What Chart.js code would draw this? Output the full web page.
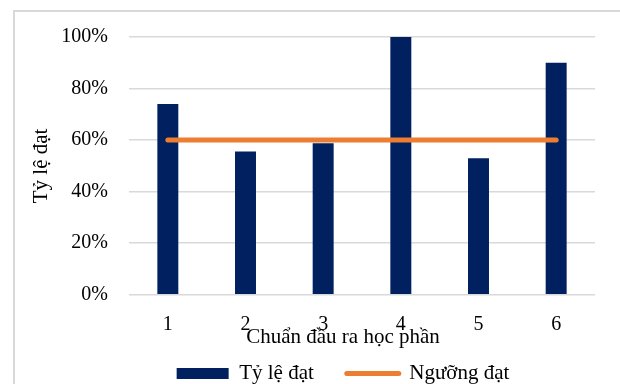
<!DOCTYPE html>
<html>
<head>
<meta charset="utf-8">
<script src="https://cdn.jsdelivr.net/npm/chart.js@4/dist/chart.umd.min.js"></script>
<style>
  html, body { margin: 0; padding: 0; background: #fff; width: 620px; height: 384px; overflow: hidden; position: relative; }
  #frame { position: absolute; left: 13px; top: 10px; width: 700px; height: 420px; border: 2px solid #d9d9d9; box-sizing: border-box; }
  #c { position: absolute; left: 13px; top: 10px; }
</style>
</head>
<body>
<div id="frame"></div>
<canvas id="c" width="660" height="400"></canvas>
<script>
const categories = ["1", "2", "3", "4", "5", "6"];
const passRate = [74, 55.6, 58.8, 100, 53, 90];
const threshold = [60, 60, 60, 60, 60, 60];
const yTicks = [0, 20, 40, 60, 80, 100];
const seriesNames = ["Tỷ lệ đạt", "Ngưỡng đạt"];
const xTitle = "Chuẩn đầu ra học phần";
const yTitle = "Tỷ lệ đạt";

const FONT = "'Liberation Serif', 'Times New Roman', serif";

new Chart(document.getElementById('c'), {
  data: {
    labels: categories,
    datasets: [
      {
        type: 'bar',
        label: seriesNames[0],
        data: passRate,
        backgroundColor: '#002060',
        borderWidth: 0,
        barPercentage: 0.27,
        categoryPercentage: 1,
        order: 1
      },
      {
        type: 'line',
        label: seriesNames[1],
        data: threshold,
        borderColor: '#ED7D31',
        backgroundColor: '#ED7D31',
        borderWidth: 5,
        borderCapStyle: 'round',
        pointRadius: 0,
        pointHoverRadius: 0,
        fill: false,
        order: 0
      }
    ]
  },
  options: {
    responsive: false,
    animation: false,
    devicePixelRatio: 1,
    layout: { padding: { left: 0, right: 0, top: 27, bottom: 16 } },
    scales: {
      x: {
        type: 'category',
        offset: true,
        grid: { display: false, drawTicks: false },
        border: { display: false },
        ticks: { color: '#000', font: { family: FONT, size: 20 }, padding: 18 },
        afterFit: (s) => { s.height = 44; }
      },
      y: {
        position: 'left',
        min: 0, max: 100,
        afterBuildTicks: (s) => { s.ticks = yTicks.map(v => ({ value: v })); },
        grid: { color: '#d9d9d9', lineWidth: 1.5, drawTicks: false },
        border: { display: false },
        ticks: { color: '#000', font: { family: FONT, size: 20 }, padding: 21, callback: (v) => v + '%' },
        title: { display: true, text: yTitle, color: '#000', font: { family: FONT, size: 21 }, padding: { top: 16, bottom: 0 } },
        afterFit: (s) => { s.width = 116; s.paddingTop = 0; s.paddingBottom = 0; }
      },
      yRight: {
        position: 'right',
        min: 0, max: 100,
        grid: { display: false, drawTicks: false },
        border: { display: false },
        ticks: { display: false },
        afterFit: (s) => { s.width = 78; s.paddingTop = 0; s.paddingBottom = 0; }
      }
    },
    plugins: {
      title: {
        display: true,
        position: 'bottom',
        text: xTitle,
        color: '#000',
        font: { family: FONT, size: 21, weight: 'normal' },
        padding: { top: -14, bottom: 1 },
        weight: 500
      },
      legend: {
        position: 'bottom',
        labels: {
          color: '#000',
          font: { family: FONT, size: 21 },
          usePointStyle: true,
          pointStyleWidth: 52,
          boxHeight: 11,
          padding: 12,
          sort: (a, b) => a.datasetIndex - b.datasetIndex,
          generateLabels: (chart) => chart.data.datasets.map((ds, i) => ({
            text: i === 0 ? ds.label + '    ' : ds.label,
            fillStyle: ds.backgroundColor,
            strokeStyle: ds.type === 'line' ? ds.borderColor : ds.backgroundColor,
            lineWidth: ds.type === 'line' ? 5 : 0,
            lineCap: 'round',
            pointStyle: ds.type === 'line' ? 'line' : 'rect',
            fontColor: '#000',
            hidden: false,
            datasetIndex: i
          }))
        }
      },
      tooltip: { enabled: false }
    }
  }
});
</script>
</body>
</html>
